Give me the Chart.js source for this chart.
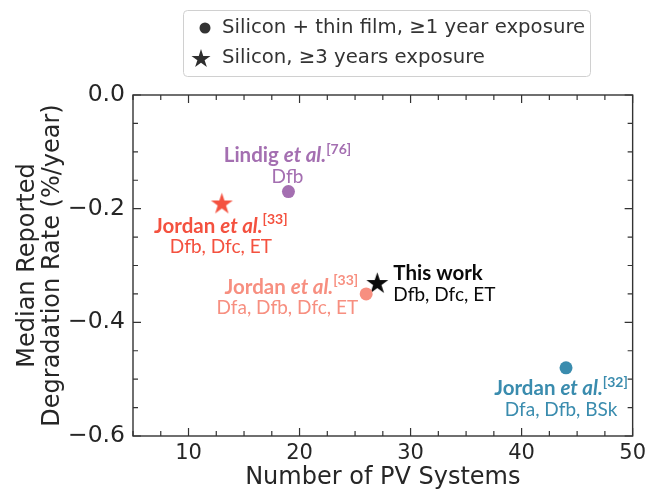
<!DOCTYPE html>
<html>
<head>
<meta charset="utf-8">
<script src="https://cdn.jsdelivr.net/npm/chart.js@4.4.1/dist/chart.umd.min.js"></script>
<style>
  html, body { margin: 0; padding: 0; background: #ffffff; }
  #wrap { width: 651px; height: 492px; position: relative; }
</style>
</head>
<body>
<div id="wrap"><canvas id="chart" width="651" height="492"></canvas></div>
<script>
// ---- data ----
const circleSystems = [19, 26, 44];
const circleRates = [-0.17, -0.35, -0.48];
const circleNames = ['Lindig', 'Jordan', 'Jordan'];
const circleRefs = ['76', '33', '32'];
const circleClimates = ['Dfb', 'Dfa, Dfb, Dfc, ET', 'Dfa, Dfb, BSk'];

const starSystems = [13, 27];
const starRates = [-0.19, -0.33];
const starNames = ['Jordan', 'This work'];
const starRefs = ['33', ''];
const starClimates = ['Dfb, Dfc, ET', 'Dfb, Dfc, ET'];

const seriesLabels = ['Silicon + thin film, \u22651 year exposure', 'Silicon, \u22653 years exposure'];
const xMajorTicks = [10, 20, 30, 40, 50];
const yMajorTicks = [0.0, -0.2, -0.4, -0.6];

// ---- styling ----
const circleColors = ['#a46fb1', '#f78f80', '#3a8cae'];
const starColors = ['#f4513f', '#0a0a0a'];
const circleLabelPos = [
  { dx: -1, dy: -36, align: 'center' },
  { dx: -8, dy: -7, align: 'right' },
  { dx: -5, dy: 21, align: 'center' }
];
const starLabelPos = [
  { dx: -1, dy: 23, align: 'center' },
  { dx: 16, dy: -9, align: 'left' }
];
const AXIS_FONT = 'DejaVu Sans';
const NOTE_FONT = 'Lato';
const INK = '#262626';

// filled five-pointed star as an image point style
function makeStar(color, R) {
  const c = document.createElement('canvas');
  const s = Math.ceil(2 * R + 2);
  c.width = s; c.height = s;
  const g = c.getContext('2d');
  const cx = s / 2, cy = s / 2 + R * 0.1;
  const r = R * 0.382;
  g.beginPath();
  for (let i = 0; i < 10; i++) {
    const rad = (i % 2 === 0) ? R : r;
    const a = -Math.PI / 2 + i * Math.PI / 5;
    const px = cx + rad * Math.cos(a), py = cy + rad * Math.sin(a);
    if (i === 0) g.moveTo(px, py); else g.lineTo(px, py);
  }
  g.closePath();
  g.fillStyle = color;
  g.fill();
  return c;
}
const starImages = starColors.map(c => makeStar(c, 11.5));
const legendStar = makeStar('#2e2e2e', 10);

const isMajor = (v, list) => list.some(m => Math.abs(m - v) < 1e-9);

// frame with inward ticks on all four sides
const framePlugin = {
  id: 'frame',
  afterDraw(chart) {
    const { ctx, chartArea: a, scales } = chart;
    ctx.save();
    ctx.strokeStyle = '#333';
    ctx.lineWidth = 1.4;
    ctx.strokeRect(a.left, a.top, a.right - a.left, a.bottom - a.top);
    ctx.lineWidth = 1.2;
    ctx.beginPath();
    scales.x.ticks.forEach(t => {
      const x = scales.x.getPixelForValue(t.value);
      const len = isMajor(t.value, xMajorTicks) ? 8 : 5;
      ctx.moveTo(x, a.bottom); ctx.lineTo(x, a.bottom - len);
      ctx.moveTo(x, a.top); ctx.lineTo(x, a.top + len);
    });
    scales.y.ticks.forEach(t => {
      const y = scales.y.getPixelForValue(t.value);
      const len = isMajor(t.value, yMajorTicks) ? 8 : 5;
      ctx.moveTo(a.left, y); ctx.lineTo(a.left + len, y);
      ctx.moveTo(a.right, y); ctx.lineTo(a.right - len, y);
    });
    ctx.stroke();
    ctx.restore();
  }
};

// boxed legend above the plot
const legendBoxPlugin = {
  id: 'legendBox',
  afterDraw(chart) {
    const ctx = chart.ctx;
    ctx.save();
    const bx = 183, by = 10, bw = 407, bh = 66, rr = 4;
    ctx.fillStyle = 'rgba(255,255,255,0.9)';
    ctx.strokeStyle = '#d0d0d0';
    ctx.lineWidth = 1;
    ctx.beginPath();
    ctx.roundRect(bx + 0.5, by + 0.5, bw, bh, rr);
    ctx.fill();
    ctx.stroke();
    ctx.font = '19.7px "' + AXIS_FONT + '"';
    ctx.fillStyle = '#333';
    ctx.textBaseline = 'middle';
    ctx.textAlign = 'left';
    // circle entry
    ctx.beginPath();
    ctx.arc(205, 28, 5.5, 0, Math.PI * 2);
    ctx.fill();
    ctx.fillText(chart.data.datasets[0].label, 222, 28);
    // star entry
    ctx.drawImage(legendStar, 201 - legendStar.width / 2, 58 - legendStar.height / 2);
    ctx.fillText(chart.data.datasets[1].label, 222, 58);
    ctx.restore();
  }
};

// citation labels beside each point
function drawRich(ctx, segs, x, y, align) {
  let w = 0;
  segs.forEach(s => { ctx.font = s.font; s.w = ctx.measureText(s.text).width; w += s.w; });
  let sx = align === 'center' ? x - w / 2 : (align === 'right' ? x - w : x);
  ctx.textAlign = 'left';
  ctx.textBaseline = 'middle';
  segs.forEach(s => {
    ctx.font = s.font;
    ctx.fillText(s.text, sx, y - (s.rise || 0));
    sx += s.w;
  });
}
const notesPlugin = {
  id: 'notes',
  afterDatasetsDraw(chart) {
    const ctx = chart.ctx;
    const groups = [
      { ds: 0, names: circleNames, refs: circleRefs, clim: circleClimates, cols: circleColors, pos: circleLabelPos },
      { ds: 1, names: starNames, refs: starRefs, clim: starClimates, cols: starColors, pos: starLabelPos }
    ];
    ctx.save();
    groups.forEach(gp => {
      const meta = chart.getDatasetMeta(gp.ds);
      meta.data.forEach((el, i) => {
        const p = gp.pos[i];
        const x = el.x + p.dx, y = el.y + p.dy;
        ctx.fillStyle = gp.cols[i];
        let segs;
        if (gp.refs[i]) {
          segs = [
            { text: gp.names[i] + ' ', font: 'bold 20.5px ' + NOTE_FONT },
            { text: 'et al.', font: 'italic bold 20.5px ' + NOTE_FONT },
            { text: '[' + gp.refs[i] + ']', font: 'bold 14px ' + NOTE_FONT, rise: 6 }
          ];
        } else {
          segs = [{ text: gp.names[i], font: 'bold 20.5px ' + NOTE_FONT }];
        }
        drawRich(ctx, segs, x, y, p.align);
        drawRich(ctx, [{ text: gp.clim[i], font: '19px ' + NOTE_FONT }], x, y + 21, p.align);
      });
    });
    ctx.restore();
  }
};

new Chart(document.getElementById('chart'), {
  type: 'scatter',
  data: {
    datasets: [
      {
        label: seriesLabels[0],
        data: circleSystems.map((x, i) => ({ x, y: circleRates[i] })),
        pointStyle: 'circle',
        pointRadius: 6.5,
        pointHoverRadius: 6.5,
        pointBackgroundColor: circleColors,
        pointBorderWidth: 0,
        borderWidth: 0
      },
      {
        label: seriesLabels[1],
        data: starSystems.map((x, i) => ({ x, y: starRates[i] })),
        pointStyle: starImages,
        pointRadius: 11,
        pointBackgroundColor: starColors,
        borderWidth: 0
      }
    ]
  },
  options: {
    responsive: false,
    animation: false,
    events: [],
    layout: { padding: { top: 95, right: 18, left: 0, bottom: 0 } },
    plugins: { legend: { display: false }, tooltip: { enabled: false } },
    scales: {
      x: {
        type: 'linear',
        min: 5, max: 50,
        grid: { display: false, drawTicks: false },
        border: { display: false },
        ticks: {
          stepSize: 2.5,
          autoSkip: false,
          maxRotation: 0,
          padding: 5,
          color: INK,
          font: { family: AXIS_FONT, size: 21 },
          callback: v => isMajor(v, xMajorTicks) ? String(v) : ''
        },
        title: {
          display: true,
          text: 'Number of PV Systems',
          color: INK,
          font: { family: AXIS_FONT, size: 24 },
          padding: { top: 0, bottom: 0 }
        },
        afterFit: s => { s.height = 56; }
      },
      y: {
        type: 'linear',
        min: -0.6, max: 0,
        grid: { display: false, drawTicks: false },
        border: { display: false },
        ticks: {
          stepSize: 0.05,
          autoSkip: false,
          padding: 8,
          color: INK,
          font: { family: AXIS_FONT, size: 23.5 },
          callback: v => isMajor(v, yMajorTicks) ? (Math.abs(v) < 1e-9 ? '0.0' : v.toFixed(1).replace('-', '\u2212')) : ''
        },
        title: {
          display: true,
          text: ['Median Reported', 'Degradation Rate (%/year)'],
          color: INK,
          font: { family: AXIS_FONT, size: 24, lineHeight: 1.05 },
          padding: { top: 15, bottom: 0 }
        },
        afterFit: s => { s.width = 133; }
      }
    }
  },
  plugins: [framePlugin, notesPlugin, legendBoxPlugin]
});
</script>
</body>
</html>
